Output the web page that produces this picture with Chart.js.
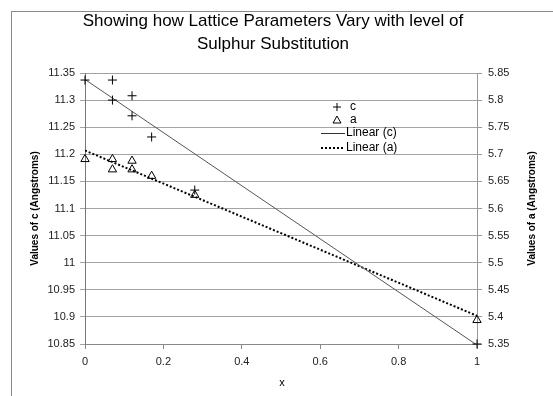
<!DOCTYPE html>
<html>
<head>
<meta charset="utf-8">
<title>Lattice Parameters</title>
<script src="https://cdn.jsdelivr.net/npm/chart.js"></script>
<style>
  html, body { margin: 0; padding: 0; background: #fff; overflow: hidden; }
  #wrap { position: relative; width: 553px; height: 396px; overflow: hidden; }
  #frame { position: absolute; left: 11px; top: 11px; width: 700px; height: 600px;
           border-left: 1px solid #8a8a8a; border-top: 1px solid #8a8a8a; pointer-events: none; }
</style>
</head>
<body>
<div id="wrap">
  <canvas id="chart" width="553" height="396"></canvas>
  <div id="frame"></div>
</div>
<script>
// values
const xC = [0, 0.07, 0.07, 0.12, 0.12, 0.17, 0.28, 1];
const cVals = [11.337, 11.337, 11.300, 11.308, 11.271, 11.232, 11.134, 10.85];
const xA = [0, 0.07, 0.07, 0.12, 0.12, 0.17, 0.28, 1];
const aVals = [5.691, 5.691, 5.672, 5.688, 5.672, 5.660, 5.625, 5.394];

// trendline ends as drawn
const trendX = [0, 1];
const trendC = [11.338, 10.848];
const trendA = [5.707, 5.402];

const xTicks = [0, 0.2, 0.4, 0.6, 0.8, 1];
const cTicks = [10.85, 10.9, 10.95, 11, 11.05, 11.1, 11.15, 11.2, 11.25, 11.3, 11.35];
const aTicks = [5.35, 5.4, 5.45, 5.5, 5.55, 5.6, 5.65, 5.7, 5.75, 5.8, 5.85];

const FONT = "'Liberation Sans', Arial, sans-serif";

const pts = (xs, ys) => xs.map((x, i) => ({ x: x, y: ys[i] }));
const fmt = v => String(+Number(v).toFixed(2));
const setTicks = arr => scale => { scale.ticks = arr.map(v => ({ value: v })); };

// title, axis titles and legend
const textPlugin = {
  id: 'texts',
  afterDraw(chart) {
    const ctx = chart.ctx;
    const area = chart.chartArea;
    ctx.save();
    ctx.fillStyle = '#000';
    ctx.textBaseline = 'middle';
    ctx.textAlign = 'center';
    ctx.font = '17px ' + FONT;
    ctx.fillText('Showing how Lattice Parameters Vary with level of', 273, 21);
    ctx.fillText('Sulphur Substitution', 273, 44);

    ctx.font = '11px ' + FONT;
    ctx.fillText('x', 282, 383);

    const midY = (area.top + area.bottom) / 2;
    ctx.font = 'bold 10px ' + FONT;
    ctx.save();
    ctx.translate(35, midY);
    ctx.rotate(-Math.PI / 2);
    ctx.fillText('Values of c (Angstroms)', 0, 0);
    ctx.restore();
    ctx.save();
    ctx.translate(532, midY);
    ctx.rotate(-Math.PI / 2);
    ctx.fillText('Values of a (Angstroms)', 0, 0);
    ctx.restore();

    // legend
    ctx.font = '12px ' + FONT;
    ctx.textAlign = 'left';
    ctx.strokeStyle = '#000';
    ctx.lineWidth = 1;
    const mx = 337, tx = 350;
    ctx.beginPath();
    ctx.moveTo(mx - 4, 107); ctx.lineTo(mx + 4, 107);
    ctx.moveTo(mx, 103); ctx.lineTo(mx, 111);
    ctx.stroke();
    ctx.fillText('c', tx, 107);
    ctx.beginPath();
    ctx.moveTo(mx, 116); ctx.lineTo(mx + 4, 123); ctx.lineTo(mx - 4, 123); ctx.closePath();
    ctx.stroke();
    ctx.fillText('a', tx, 120);
    ctx.strokeStyle = '#333';
    ctx.beginPath();
    ctx.moveTo(321, 133.5); ctx.lineTo(345, 133.5);
    ctx.stroke();
    ctx.fillText('Linear (c)', 346, 133);
    ctx.strokeStyle = '#000';
    ctx.lineWidth = 2;
    ctx.setLineDash([2, 2]);
    ctx.beginPath();
    ctx.moveTo(321, 148); ctx.lineTo(345, 148);
    ctx.stroke();
    ctx.setLineDash([]);
    ctx.fillText('Linear (a)', 346, 148);
    ctx.restore();
  }
};

new Chart(document.getElementById('chart').getContext('2d'), {
  type: 'scatter',
  data: {
    datasets: [
      {
        label: 'c',
        data: pts(xC, cVals),
        yAxisID: 'y',
        pointStyle: 'cross',
        radius: 4.5,
        borderColor: '#000',
        borderWidth: 1,
        clip: false
      },
      {
        label: 'a',
        data: pts(xA, aVals),
        yAxisID: 'y2',
        pointStyle: 'triangle',
        radius: 4.8,
        borderColor: '#000',
        backgroundColor: 'rgba(255,255,255,0)',
        borderWidth: 1,
        clip: false
      },
      {
        label: 'Linear (c)',
        type: 'line',
        data: pts(trendX, trendC),
        yAxisID: 'y',
        borderColor: '#555',
        borderWidth: 1,
        pointRadius: 0
      },
      {
        label: 'Linear (a)',
        type: 'line',
        data: pts(trendX, trendA),
        yAxisID: 'y2',
        borderColor: '#000',
        borderWidth: 2,
        borderDash: [2, 2],
        pointRadius: 0
      }
    ]
  },
  options: {
    responsive: false,
    animation: false,
    events: [],
    layout: { padding: { top: 73, left: 0, right: 0, bottom: 0 } },
    plugins: {
      legend: { display: false },
      title: { display: false },
      tooltip: { enabled: false }
    },
    scales: {
      x: {
        type: 'linear',
        min: 0,
        max: 1,
        afterBuildTicks: setTicks(xTicks),
        afterFit: s => { s.height = 52; },
        border: { color: '#888', width: 1 },
        grid: { drawOnChartArea: false, drawTicks: true, tickLength: 5, color: '#888' },
        ticks: { color: '#222', font: { family: FONT, size: 11 }, padding: 6, callback: fmt, maxRotation: 0 }
      },
      y: {
        position: 'left',
        min: 10.85,
        max: 11.35,
        afterBuildTicks: setTicks(cTicks),
        afterFit: s => { s.width = 85; },
        border: { color: '#777', width: 1 },
        grid: { drawOnChartArea: true, drawTicks: true, tickLength: 5, color: '#a3a3a3' },
        ticks: { color: '#222', font: { family: FONT, size: 11 }, padding: 5, callback: fmt }
      },
      y2: {
        position: 'right',
        min: 5.35,
        max: 5.85,
        afterBuildTicks: setTicks(aTicks),
        afterFit: s => { s.width = 76; },
        border: { color: '#999', width: 1 },
        grid: { drawOnChartArea: false, drawTicks: true, tickLength: 5, color: '#999' },
        ticks: { color: '#222', font: { family: FONT, size: 11 }, padding: 6, callback: fmt }
      }
    }
  },
  plugins: [textPlugin]
});
</script>
</body>
</html>
